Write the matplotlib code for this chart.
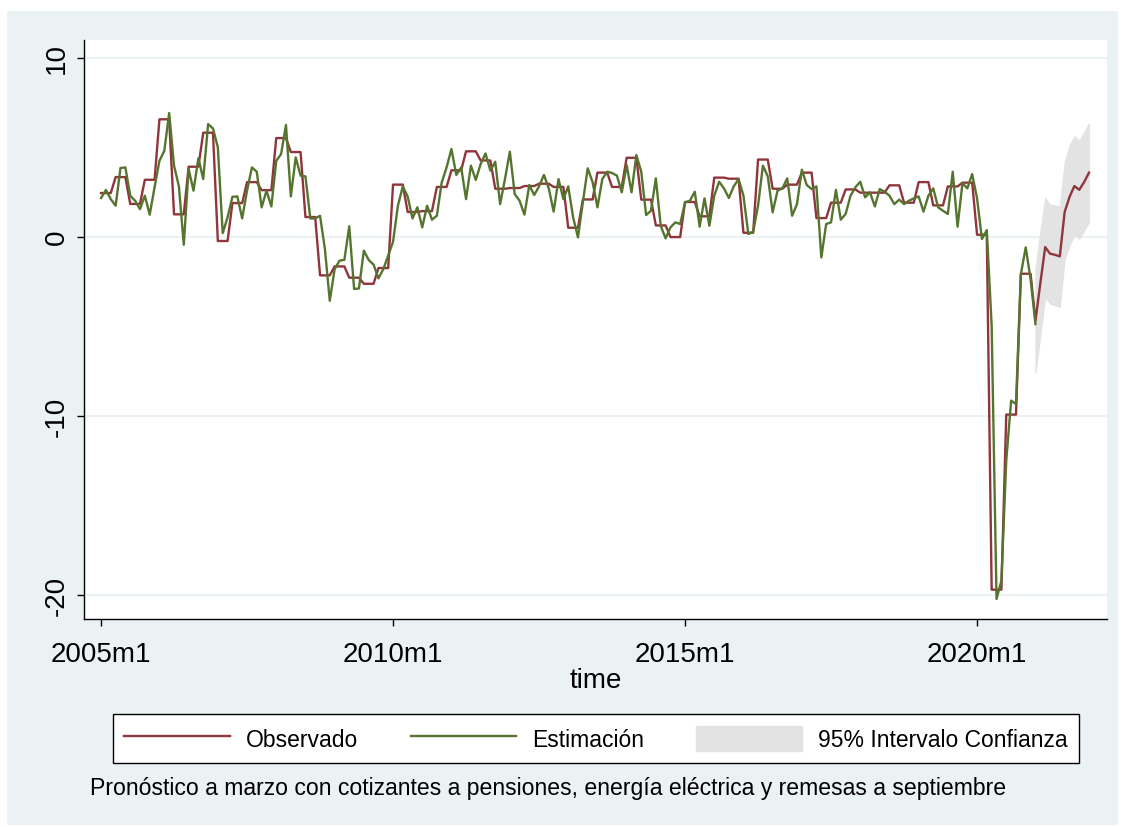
import numpy as np
import matplotlib.pyplot as plt
from matplotlib.patches import Patch
from matplotlib.lines import Line2D

# observed growth, quarterly values (2005Q1 .. 2020Q4), shown as monthly steps
observed_q = [
    2.44, 3.33, 1.83, 3.18,
    6.56, 1.25, 3.91, 5.81,
    -0.24, 1.88, 3.05, 2.60,
    5.51, 4.73, 1.10, -2.16,
    -1.66, -2.29, -2.63, -1.75,
    2.91, 1.38, 1.43, 2.78,
    3.71, 4.77, 4.26, 2.68,
    2.72, 2.83, 2.96, 2.78,
    0.50, 2.08, 3.58, 2.78,
    4.41, 2.07, 0.63, -0.02,
    1.94, 1.14, 3.30, 3.24,
    0.22, 4.31, 2.68, 2.91,
    3.58, 1.04, 1.90, 2.64,
    2.46, 2.46, 2.87, 1.90,
    3.05, 1.75, 2.81, 3.02,
    0.11, -19.72, -9.94, -2.07,
]
# forecast 2021m1 .. 2021m12
forecast = [-4.70, -2.60, -0.58, -0.95, -1.01, -1.10, 1.38, 2.22, 2.83, 2.62, 3.05, 3.58]
ci_upper = [-1.80, 0.30, 2.16, 1.79, 1.75, 1.71, 4.17, 5.10, 5.62, 5.38, 5.85, 6.31]
ci_lower = [-7.60, -5.50, -3.37, -3.74, -3.83, -3.93, -1.23, -0.48, 0.11, -0.11, 0.35, 0.82]

# monthly estimate 2005m1 .. 2021m1
estimate = [
    2.16, 2.61, 2.10, 1.73, 3.84, 3.87, 2.29, 2.01, 1.54, 2.29,
    1.23, 2.76, 4.24, 4.80, 6.91, 3.97, 2.81, -0.45, 3.78, 2.57,
    4.38, 3.22, 6.29, 6.05, 4.99, 0.20, 1.08, 2.23, 2.25, 1.02,
    2.57, 3.87, 3.63, 1.64,
    2.57, 1.69, 4.24, 4.62, 6.24, 2.25, 4.43, 3.41, 3.37, 1.02,
    1.02, 1.17, -0.69, -3.58, -1.81, -1.34, -1.29, 0.58, -2.92, -2.89,
    -0.78, -1.30, -1.56, -2.33, -1.81, -1.06, -0.28, 1.73, 2.81, 2.25,
    1.02, 1.64, 0.52, 1.73,
    0.95, 1.17, 3.03, 3.87, 4.90, 3.45, 3.87, 2.10, 3.97, 3.17,
    4.06, 4.65, 3.69, 4.19, 1.82, 3.22, 4.75, 2.38, 2.01, 1.23,
    2.89, 2.33, 2.81, 3.45, 2.70, 1.40, 3.22, 2.10, 2.81, 1.08,
    -0.04, 1.92, 3.82, 3.05,
    1.64, 3.22, 3.63, 3.56, 3.41, 2.48, 4.00, 2.48, 4.56, 3.63,
    1.21, 1.45, 3.26, 0.61, -0.09, 0.52, 0.80, 0.71, 1.92, 2.01,
    2.51, 0.56, 2.14, 0.61, 2.29, 3.07, 2.70, 2.16, 2.81, 3.22,
    2.29, 0.15, 0.28,
    1.73, 3.97, 3.37, 1.36, 2.57, 2.70, 3.26, 1.17, 1.82, 3.74,
    2.89, 2.66, 2.81, -1.16, 0.71, 0.80, 2.62, 0.95, 1.27, 2.29,
    2.76, 3.07, 2.20, 2.48, 1.69, 2.66, 2.51, 2.29, 1.82, 2.07,
    1.82, 2.01, 2.14, 2.25, 1.40,
    2.29, 2.70, 1.64, 1.45, 1.27, 3.63, 0.56, 2.99, 2.70, 3.50,
    2.14, -0.13, 0.37, -4.97, -20.24, -19.22, -12.50, -9.16, -9.35, -2.09,
    -0.60, -2.37, -4.88,
]

start_year = 2005
x_tick_labels = ["2005m1", "2010m1", "2015m1", "2020m1"]
y_ticks = [-20, -10, 0, 10]

legend_labels = ["Observado", "Estimación", "95% Intervalo Confianza"]
note = "Pronóstico a marzo con cotizantes a pensiones, energía eléctrica y remesas a septiembre"

maroon = (144 / 255, 53 / 255, 59 / 255)
forest = (85 / 255, 117 / 255, 47 / 255)
bluish = (234 / 255, 242 / 255, 243 / 255)
band_gray = "#e3e3e3"

plt.rcParams["font.family"] = ["Liberation Sans", "DejaVu Sans"]

observed = list(np.repeat(observed_q, 3)) + forecast
t_obs = np.arange(len(observed))
t_est = np.arange(len(estimate))
t_fc = np.arange(len(observed_q) * 3, len(observed))

W, H = 1122, 828
fig = plt.figure(figsize=(W / 100, H / 100), dpi=100)

# light bluish graph region behind everything
bg = fig.add_axes([7 / W, 1 - 826 / H, (1118 - 7) / W, (826 - 12) / H], zorder=-1)
bg.set_facecolor(bluish)
bg.set_xticks([])
bg.set_yticks([])
for s in bg.spines.values():
    s.set_visible(False)

ax = fig.add_axes([84 / W, 1 - 620 / H, (1107 - 84) / W, (620 - 41) / H], zorder=1)
ax.set_facecolor("white")

ax.fill_between(t_fc, ci_lower, ci_upper, color=band_gray, lw=0.8, zorder=1)
ax.plot(t_obs, observed, color=maroon, lw=1.7, zorder=3)
ax.plot(t_est, estimate, color=forest, lw=1.7, zorder=4)

ax.set_ylim(-21.36, 10.99)
ax.set_xlim(-3.5, 206.7)

ax.set_yticks(y_ticks)
ax.set_yticklabels([str(v) for v in y_ticks], rotation=90, va="center")
ax.yaxis.grid(True, color=bluish, lw=1.5)
ax.set_axisbelow(True)

x_ticks = [(int(s.split("m")[0]) - start_year) * 12 + int(s.split("m")[1]) - 1 for s in x_tick_labels]
ax.set_xticks(x_ticks)
ax.set_xticklabels(x_tick_labels)
ax.tick_params(axis="both", labelsize=20, length=5, width=1, color="black")
ax.tick_params(axis="y", pad=5)
ax.tick_params(axis="x", pad=11)

for side in ["top", "right"]:
    ax.spines[side].set_visible(False)
for side in ["left", "bottom"]:
    ax.spines[side].set_linewidth(1)

ax.set_xlabel("time", fontsize=20, labelpad=0)

handles = [
    Line2D([], [], color=maroon, lw=1.7),
    Line2D([], [], color=forest, lw=1.7),
    Patch(facecolor=band_gray, edgecolor=band_gray),
]
leg = fig.legend(handles, legend_labels, loc="center", ncol=3, mode="expand",
                 bbox_to_anchor=(113 / W, 1 - 767 / H, (1079 - 113) / W, 55 / H),
                 fontsize=16.5, handlelength=4.6, handleheight=1.3, handletextpad=0.7,
                 borderpad=0.5, frameon=True, fancybox=False, borderaxespad=0,
                 framealpha=1)
leg.get_frame().set_edgecolor("black")
leg.get_frame().set_facecolor("white")
leg.get_frame().set_linewidth(1)
leg.set_zorder(5)

fig.text(90 / W, 1 - 789 / H, note, fontsize=16.6, ha="left", va="center", zorder=5)

fig.savefig("out.png", dpi=100, facecolor="white")
